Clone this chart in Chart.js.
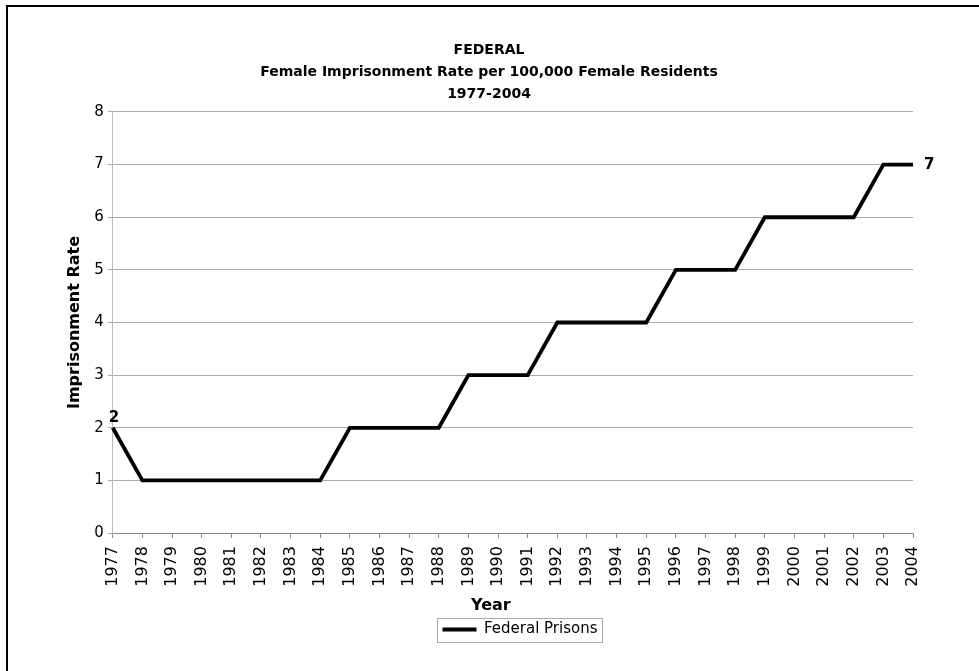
<!DOCTYPE html>
<html lang="en">
<head>
<meta charset="UTF-8">
<style>
body {
    margin: 0;
    background: #fff;
}
.wrap {
    position: relative;
    width: 979px;
    height: 671px;
}
.frame {
    position: absolute;
    left: 6px;
    top: 5px;
    right: 0;
    bottom: 0;
    border-top: 2px solid #000;
    border-left: 2px solid #000;
    pointer-events: none;
}
</style>
</head>
<body>
<div class="wrap">
<canvas id="rateChart" width="979" height="671"></canvas>
<div class="frame"></div>
</div>
<script src="https://cdn.jsdelivr.net/npm/chart.js"></script>
<script>
const years = ['1977', '1978', '1979', '1980', '1981', '1982', '1983', '1984', '1985', '1986',
    '1987', '1988', '1989', '1990', '1991', '1992', '1993', '1994', '1995', '1996',
    '1997', '1998', '1999', '2000', '2001', '2002', '2003', '2004'];
const rates = [2, 1, 1, 1, 1, 1, 1, 1, 2, 2, 2, 2, 3, 3, 3, 4, 4, 4, 4, 5, 5, 5, 6, 6, 6, 6, 7, 7];
const titleLines = ['FEDERAL', 'Female Imprisonment Rate per 100,000 Female Residents', '1977-2004'];
const seriesName = 'Federal Prisons';
const xTitle = 'Year';

const fontFamily = '"DejaVu Sans", Verdana, sans-serif';
const legendShift = 31;  // legend and x title sit a bit off the plot centre

// labels on first and last point, x title
const endLabels = {
    id: 'endLabels',
    afterDatasetsDraw(chart) {
        const c = chart.ctx;
        const x = chart.scales.x, y = chart.scales.y;
        const last = rates.length - 1;
        c.save();
        c.font = 'bold 15px ' + fontFamily;
        c.fillStyle = '#000';
        c.textBaseline = 'bottom';
        c.textAlign = 'left';
        c.fillText(String(rates[0]), x.getPixelForValue(0) - 4, y.getPixelForValue(rates[0]) - 2);
        c.textBaseline = 'middle';
        c.fillText(String(rates[last]), x.getPixelForValue(last) + 11, y.getPixelForValue(rates[last]) + 1);
        c.restore();
    },
    afterDraw(chart) {
        const c = chart.ctx;
        const x = chart.scales.x;
        c.save();
        c.font = 'bold 16px ' + fontFamily;
        c.fillStyle = '#000';
        c.textAlign = 'center';
        c.textBaseline = 'middle';
        c.fillText(xTitle, (chart.chartArea.left + chart.chartArea.right) / 2 - 22, x.bottom - 10);
        c.restore();
    }
};

// move legend over and box it
const legendBox = {
    id: 'legendBox',
    afterLayout(chart) {
        const l = chart.legend;
        l.left += legendShift;
        l.right += legendShift;
        l.legendHitBoxes.forEach(h => { h.left += legendShift; });
    },
    afterDraw(chart) {
        const hb = chart.legend.legendHitBoxes[0];
        if (!hb) return;
        const c = chart.ctx;
        const cy = hb.top + hb.height / 2;
        c.save();
        c.strokeStyle = '#aaa';
        c.lineWidth = 1;
        c.strokeRect(Math.round(hb.left - 5) + 0.5, Math.round(cy - 12) + 0.5, Math.round(hb.width + 10), 24);
        c.restore();
    }
};

new Chart(document.getElementById('rateChart'), {
    type: 'line',
    data: {
        labels: years,
        datasets: [{
            label: seriesName,
            data: rates,
            borderColor: '#000',
            backgroundColor: '#000',
            borderWidth: 3.8,
            pointRadius: 0,
            tension: 0,
            fill: false
        }]
    },
    options: {
        responsive: false,
        animation: false,
        layout: {
            padding: { left: 65, right: 66, top: 39, bottom: 24 }
        },
        scales: {
            x: {
                offset: false,
                grid: {
                    drawOnChartArea: false,
                    drawTicks: true,
                    tickLength: 5,
                    color: '#888'
                },
                border: { color: '#888', width: 1 },
                ticks: {
                    autoSkip: false,
                    maxRotation: 90,
                    minRotation: 90,
                    color: '#000',
                    padding: 8,
                    font: { family: fontFamily, size: 16 }
                },
                title: {
                    // drawn by endLabels so it can sit off centre
                    display: true,
                    text: xTitle,
                    color: 'rgba(0,0,0,0)',
                    padding: { top: 0, bottom: 2 },
                    font: { family: fontFamily, size: 16, weight: 'bold' }
                }
            },
            y: {
                min: 0,
                max: 8,
                ticks: {
                    stepSize: 1,
                    color: '#000',
                    padding: 4,
                    font: { family: fontFamily, size: 15 }
                },
                grid: {
                    color: '#aaa',
                    tickLength: 5
                },
                border: { color: '#bbb', width: 1 },
                title: {
                    display: true,
                    text: 'Imprisonment Rate',
                    color: '#000',
                    padding: { top: 0, bottom: 6 },
                    font: { family: fontFamily, size: 16, weight: 'bold' }
                }
            }
        },
        plugins: {
            title: {
                display: true,
                text: titleLines,
                color: '#000',
                padding: { top: 0, bottom: 7 },
                font: { family: fontFamily, size: 14, weight: 'bold', lineHeight: 1.57 }
            },
            legend: {
                position: 'bottom',
                labels: {
                    color: '#222',
                    boxWidth: 34,
                    boxHeight: 4,
                    padding: 6,
                    font: { family: fontFamily, size: 15 },
                    generateLabels: (chart) => [{
                        text: seriesName,
                        fillStyle: '#000',
                        strokeStyle: '#000',
                        lineWidth: 0,
                        datasetIndex: 0
                    }]
                }
            },
            tooltip: { enabled: false }
        }
    },
    plugins: [endLabels, legendBox]
});
</script>
</body>
</html>
